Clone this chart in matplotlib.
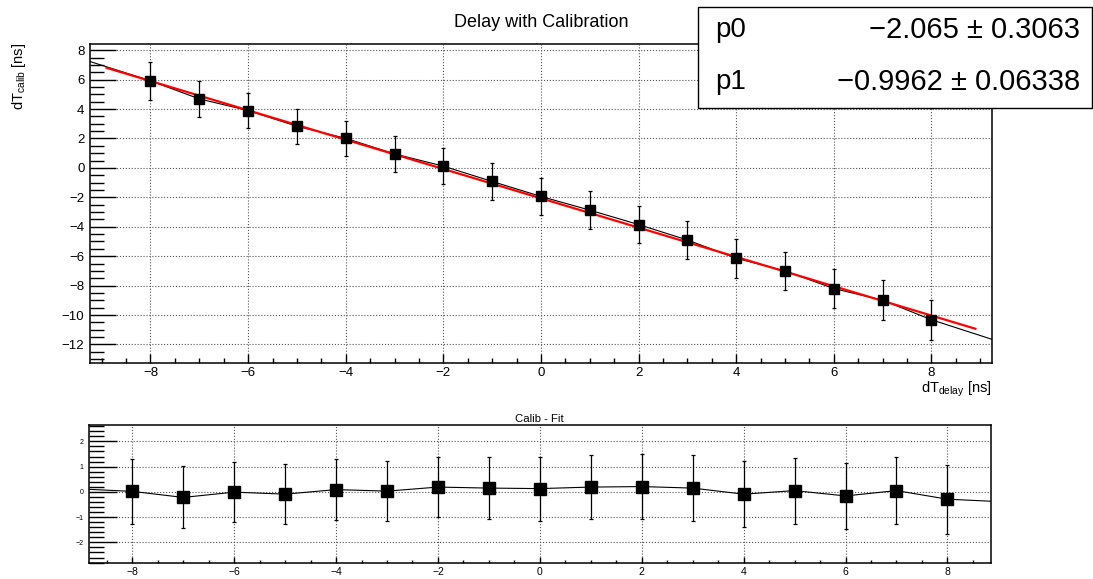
import matplotlib
matplotlib.use('Agg')
import matplotlib.pyplot as plt
import numpy as np
from matplotlib.patches import Rectangle
from matplotlib.ticker import MultipleLocator

plt.rcParams['font.family'] = ['Liberation Sans', 'DejaVu Sans']
plt.rcParams['mathtext.fontset'] = 'custom'
plt.rcParams['mathtext.rm'] = 'Liberation Sans'
plt.rcParams['mathtext.it'] = 'Liberation Sans'

# Delay values and calibrated time differences
delay = [-8, -7, -6, -5, -4, -3, -2, -1, 0, 1, 2, 3, 4, 5, 6, 7, 8]
calib = [5.92, 4.69, 3.90, 2.83, 2.01, 0.95, 0.12, -0.92, -1.94, -2.87,
         -3.85, -4.90, -6.14, -7.00, -8.20, -8.99, -10.32]
calib_err = [1.30, 1.23, 1.20, 1.18, 1.20, 1.20, 1.20, 1.24, 1.27, 1.28,
             1.28, 1.31, 1.31, 1.31, 1.30, 1.34, 1.37]
resid = [0.02, -0.22, -0.01, -0.09, 0.09, 0.03, 0.19, 0.15, 0.13, 0.19,
         0.21, 0.15, -0.09, 0.05, -0.16, 0.05, -0.29]

# where the connecting lines leave the frames
line_x_ends = [-9.24, 9.24]
line_y_ends = [7.23, -11.65]
resid_x_ends = [-8.85, 8.85]
resid_y_ends = [0.10, -0.37]

# fit result
p0, p0_err = -2.065, 0.3063
p1, p1_err = -0.9962, 0.06338
fit_range = [-8.9, 8.9]

fig = plt.figure(figsize=(10.93, 5.79), dpi=100)

# ---- top pad
ax = fig.add_axes([0.0823, 0.373, 0.8253, 0.551])
ax.set_xlim(-9.24, 9.24)
ax.set_ylim(-13.26, 8.42)

lx = [line_x_ends[0]] + delay + [line_x_ends[1]]
ly = [line_y_ends[0]] + calib + [line_y_ends[1]]
ax.plot(lx, ly, color='black', lw=0.8, zorder=3)

fx = np.linspace(fit_range[0], fit_range[1], 100)
ax.plot(fx, p0 + p1 * fx, color='red', lw=1.6, zorder=4)

ax.errorbar(delay, calib, yerr=calib_err, fmt='s', color='black', ms=7,
            capsize=1.5, elinewidth=0.9, capthick=0.9, zorder=5)

ax.xaxis.set_major_locator(MultipleLocator(2))
ax.xaxis.set_minor_locator(MultipleLocator(0.5))
ax.yaxis.set_major_locator(MultipleLocator(2))
ax.yaxis.set_minor_locator(MultipleLocator(0.5))
ax.grid(True, which='major', linestyle=':', color='#555555', lw=0.8)
ax.tick_params(axis='y', which='major', direction='in', length=19, width=1,
               labelsize=9.5, pad=4)
ax.tick_params(axis='y', which='minor', direction='in', length=10, width=1)
ax.tick_params(axis='x', which='major', direction='in', length=6.5, width=1,
               labelsize=9.5, pad=3)
ax.tick_params(axis='x', which='minor', direction='in', length=3.5, width=1)
for s in ax.spines.values():
    s.set_linewidth(1.1)

ax.set_title('Delay with Calibration', fontsize=13, pad=12)
fig.text(992 / 1093, 1 - 389 / 579, r'dT$_{\mathrm{delay}}$ [ns]',
         ha='right', va='center', fontsize=10.5)
fig.text(19 / 1093, 1 - 43 / 579, r'dT$_{\mathrm{calib}}$ [ns]',
         ha='center', va='top', rotation=90, fontsize=10.5)

# stats box
fig.add_artist(Rectangle((0.6386, 0.8135), 0.3605, 0.1744,
                         transform=fig.transFigure, facecolor='white',
                         edgecolor='black', lw=1, zorder=10))
fig.text(0.654, 1 - 30 / 579, 'p0', fontsize=20, va='center', zorder=11)
fig.text(0.988, 1 - 30 / 579, '\u2212%.3f \u00b1 %.4f' % (-p0, p0_err),
         fontsize=21, va='center', ha='right', zorder=11)
fig.text(0.654, 1 - 82 / 579, 'p1', fontsize=20, va='center', zorder=11)
fig.text(0.988, 1 - 82 / 579, '\u2212%.4f \u00b1 %.5f' % (-p1, p1_err),
         fontsize=21, va='center', ha='right', zorder=11)

# ---- bottom pad (residuals)
bx = fig.add_axes([0.0814, 0.0271, 0.8250, 0.2389])
bx.set_xlim(-8.85, 8.85)
bx.set_ylim(-2.83, 2.65)

rx = [resid_x_ends[0]] + delay + [resid_x_ends[1]]
ry = [resid_y_ends[0]] + resid + [resid_y_ends[1]]
bx.plot(rx, ry, color='black', lw=0.8, zorder=3)
bx.errorbar(delay, resid, yerr=calib_err, fmt='s', color='black', ms=8,
            capsize=1.5, elinewidth=0.9, capthick=0.9, zorder=5)

bx.xaxis.set_major_locator(MultipleLocator(2))
bx.xaxis.set_minor_locator(MultipleLocator(0.5))
bx.yaxis.set_major_locator(MultipleLocator(1))
bx.yaxis.set_minor_locator(MultipleLocator(0.2))
bx.grid(True, which='major', linestyle=':', color='#555555', lw=0.8)
bx.tick_params(axis='y', which='major', direction='in', length=20, width=1,
               labelsize=5, pad=4)
bx.tick_params(axis='y', which='minor', direction='in', length=10.5, width=1)
bx.tick_params(axis='x', which='major', direction='in', length=4, width=1,
               labelsize=7.5, pad=3)
bx.tick_params(axis='x', which='minor', direction='in', length=2.5, width=1)
for s in bx.spines.values():
    s.set_linewidth(1.1)
bx.set_title('Calib - Fit', fontsize=8.2, pad=2)

fig.savefig('out.png', dpi=100)
